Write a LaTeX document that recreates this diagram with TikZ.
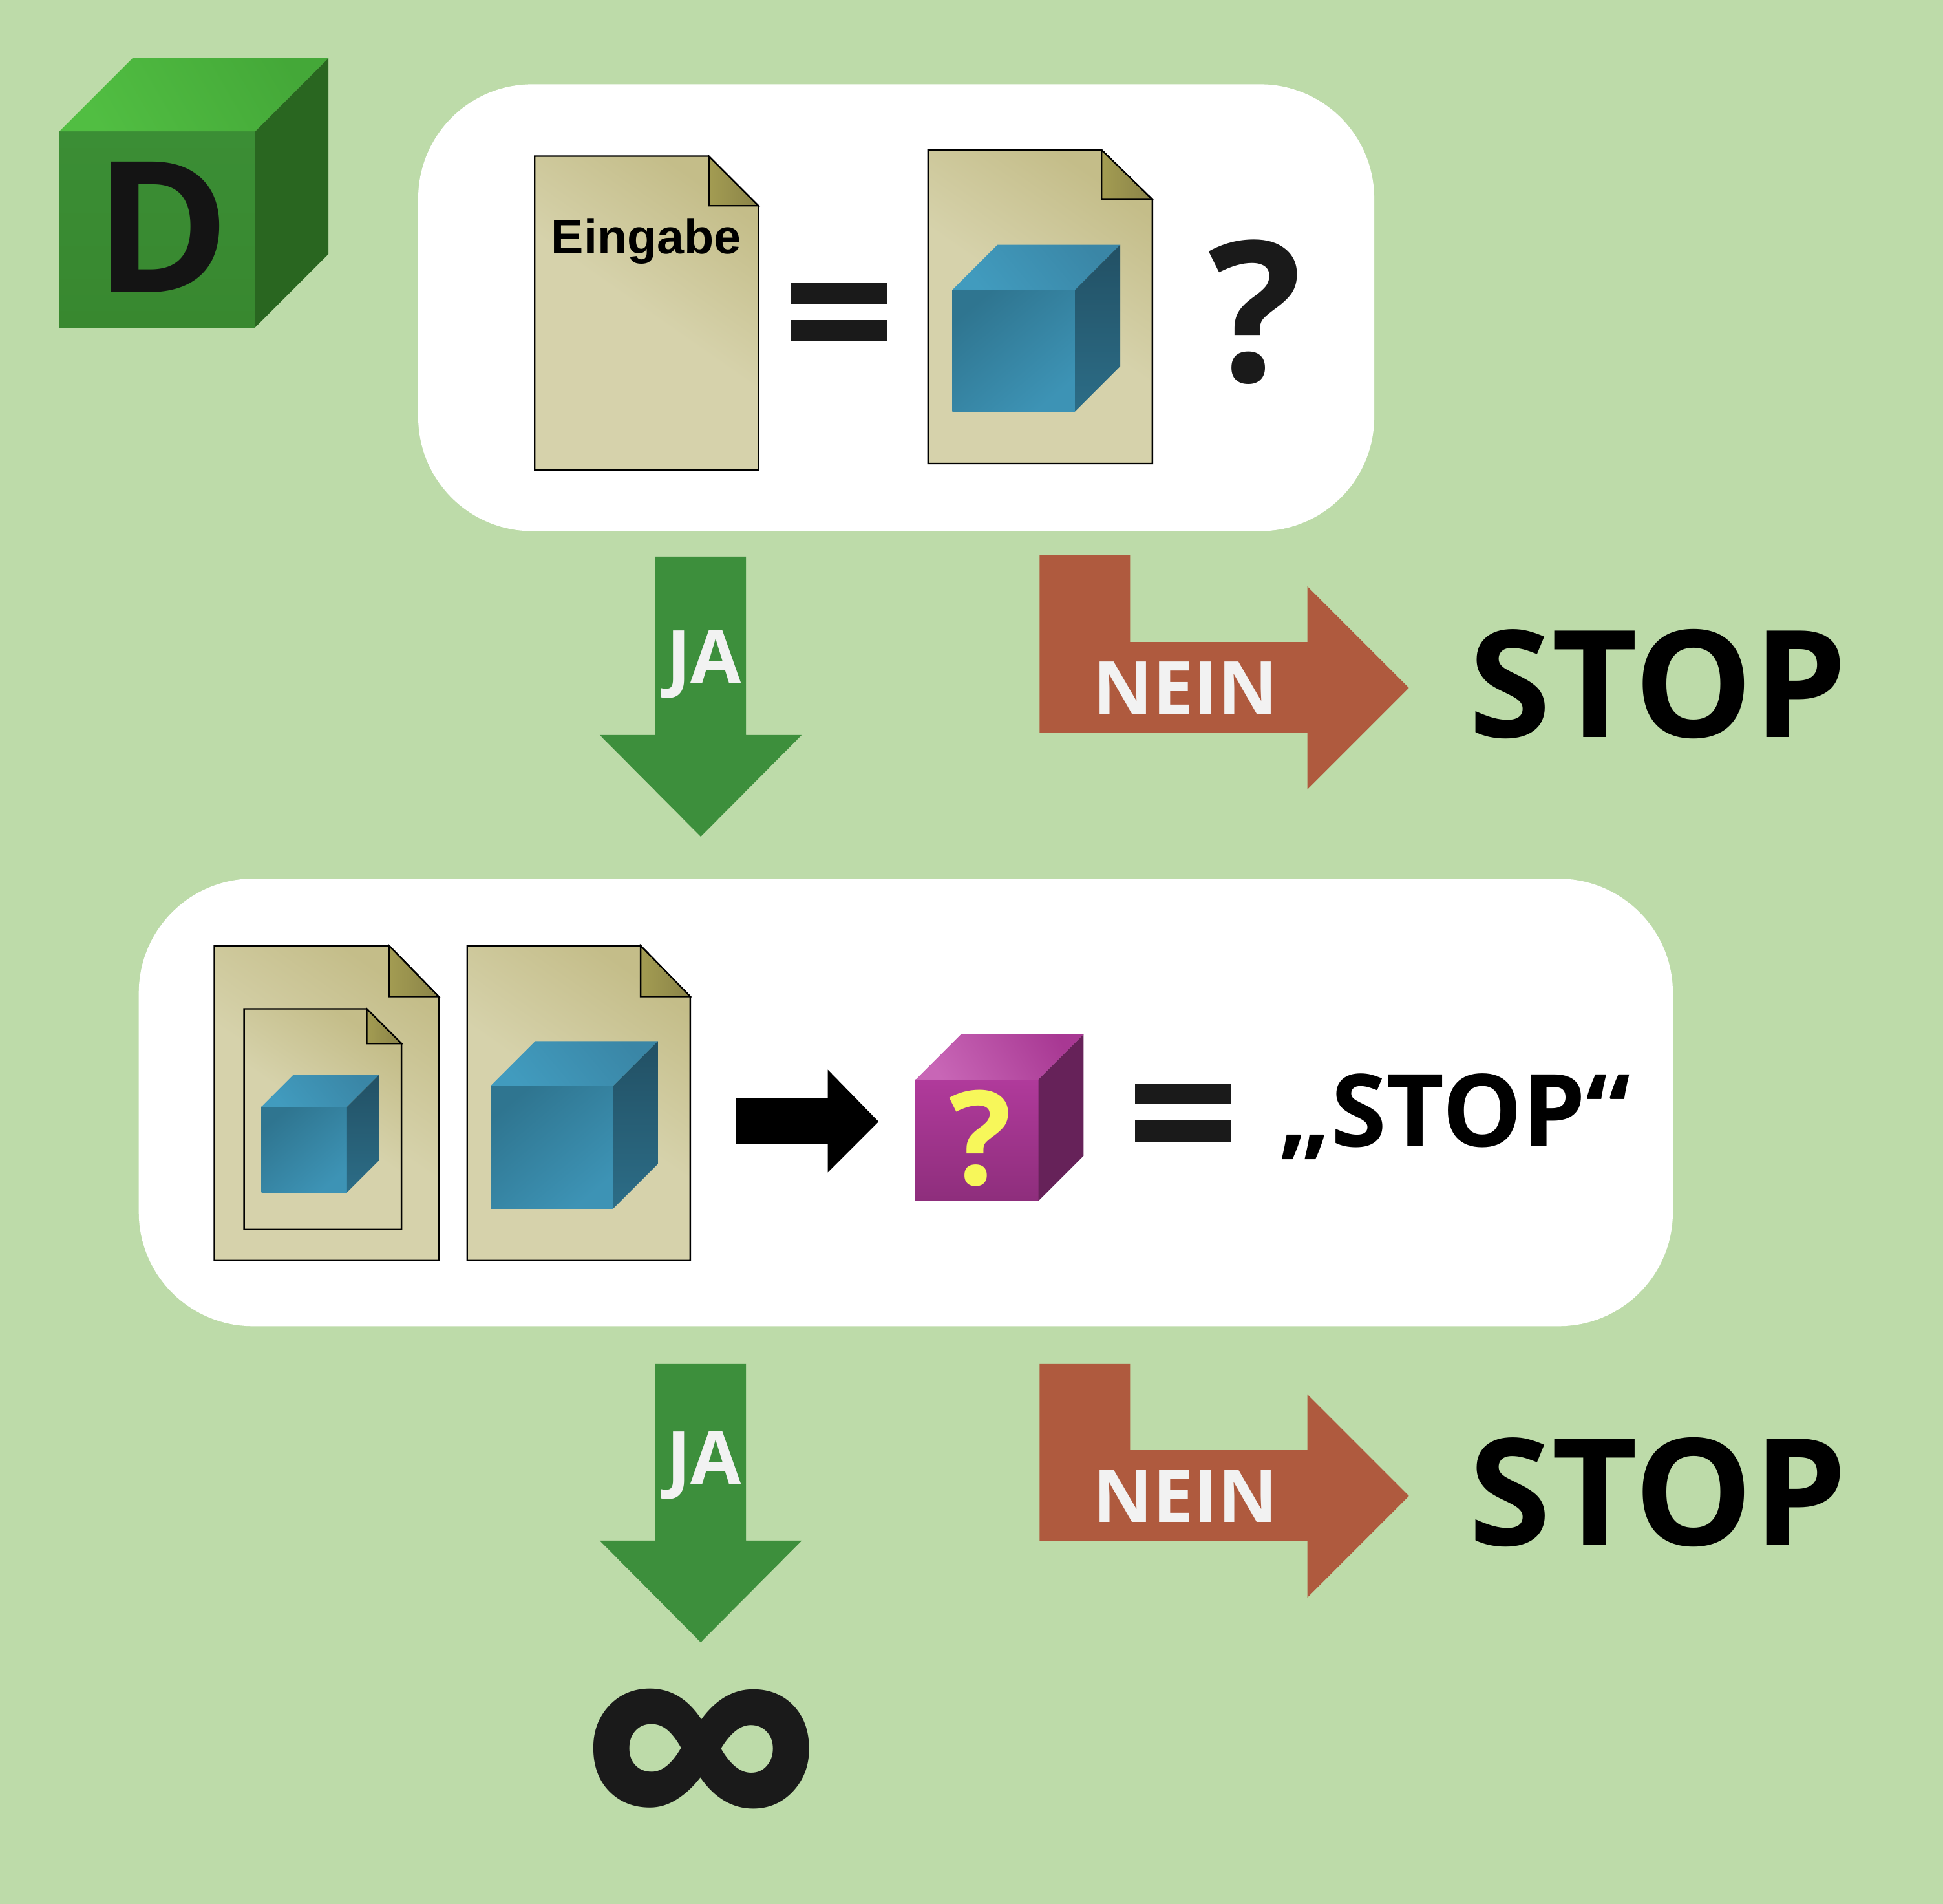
\documentclass[tikz,border=0pt]{standalone}
\usepackage{fontspec}
\setmainfont{Open Sans}
\newfontfamily\eingabefont{Liberation Sans}
\usepackage{tikz}
\usetikzlibrary{positioning}

\definecolor{bggreen}{HTML}{BDDBA9}
\definecolor{arrowgreen}{HTML}{3D8F3C}
\definecolor{arrowbrown}{HTML}{AF5A3E}
\definecolor{darkink}{HTML}{1A1A1A}

% paper sheet: x, y, width, height, fold width, fold height
\newcommand{\papersheet}[6]{
\shade[sheet] (#1,#2) -- ({#1+#3-#5},#2) -- ({#1+#3},{#2+#6}) -- ({#1+#3},{#2+#4}) -- (#1,{#2+#4}) -- cycle;
\shade[sheetfold] ({#1+#3-#5},#2) -- ({#1+#3},{#2+#6}) -- ({#1+#3-#5},{#2+#6}) -- cycle;
}
% cube: style prefix, x, y, width, height, depth
\newcommand{\blockcube}[6]{
\shade[#1front] (#2,#3) rectangle ({#2+#4},{#3+#5});
\shade[#1top] (#2,#3) -- ++(#6,-#6) -- ++(#4,0) -- ++(-#6,#6) -- cycle;
\shade[#1side] ({#2+#4},#3) -- ++(#6,-#6) -- ++(0,#5) -- ++(-#6,#6) -- cycle;
}

\begin{document}
\begin{tikzpicture}[x=0.01cm, y=-0.01cm,
    every node/.style={inner sep=0pt, outer sep=0pt, anchor=base},
    panel/.style={fill=white, rounded corners=0.92cm},
    sheet/.style={draw=black, line width=0.35pt, top color=sheettop, bottom color=sheetlow, middle color=sheetlow, shading angle=-35},
    sheetfold/.style={draw=black, line width=0.35pt, left color=foldleft, right color=foldright},
    bluefront/.style={top color=blueA, bottom color=blueB, shading angle=40},
    bluetop/.style={top color=blueC, bottom color=blueD, shading angle=-50},
    blueside/.style={top color=blueE, bottom color=blueF},
    greenfront/.style={top color=greenA, bottom color=greenB},
    greentop/.style={top color=greenC, bottom color=greenD, shading angle=-60},
    greenside/.style={top color=greenE, bottom color=greenE},
    purplefront/.style={top color=purpleA, bottom color=purpleB},
    purpletop/.style={top color=purpleC, bottom color=purpleD, shading angle=-60},
    purpleside/.style={top color=purpleE, bottom color=purpleE},
    jaarrow/.style={fill=arrowgreen},
    neinarrow/.style={fill=arrowbrown},
    stoptext/.style={font=\fontsize{34.2}{40}\selectfont\bfseries},
    arrowtext/.style={font=\fontsize{16.8}{20}\selectfont\bfseries, text=white!95!black},
    eqbar/.style={fill=darkink}
    ]
\definecolor{sheettop}{HTML}{C4BD89}
\definecolor{sheetlow}{HTML}{D6D2AB}
\definecolor{foldleft}{HTML}{A39C52}
\definecolor{foldright}{HTML}{8A8348}
\definecolor{blueA}{HTML}{2F7590}
\definecolor{blueB}{HTML}{3D93B5}
\definecolor{blueC}{HTML}{3A86A6}
\definecolor{blueD}{HTML}{419BBE}
\definecolor{blueE}{HTML}{225064}
\definecolor{blueF}{HTML}{2C6D87}
\definecolor{greenA}{HTML}{3B8E35}
\definecolor{greenB}{HTML}{38882F}
\definecolor{greenC}{HTML}{44A838}
\definecolor{greenD}{HTML}{51BE42}
\definecolor{greenE}{HTML}{296620}
\definecolor{purpleA}{HTML}{B03A9B}
\definecolor{purpleB}{HTML}{8E2E7C}
\definecolor{purpleC}{HTML}{A83893}
\definecolor{purpleD}{HTML}{C866B6}
\definecolor{purpleE}{HTML}{662259}
\definecolor{qyellow}{HTML}{F7F75A}
\useasboundingbox (0,0) rectangle (1568,1536);
\fill[bggreen] (0,0) rectangle (1568,1536);

% D cube
\blockcube{green}{48}{106}{158}{158}{59}
\node[font=\fontsize{42}{48}\selectfont\bfseries, text=black!92!white] (dletter) at (131,236) {D};

% first panel
\fill[panel] (337.5,68) rectangle (1109,428.5);
\papersheet{431.5}{126}{180.5}{253}{40}{40}
\node[font=\fontsize{11.2}{13}\selectfont\bfseries\eingabefont] (eingabe) at (521.5,204.5) {Eingabe};
\fill[eqbar] (638,228) rectangle (716,245);
\fill[eqbar] (638,258) rectangle (716,275);
\papersheet{749}{121}{181}{253}{41}{40}
\blockcube{blue}{768.5}{234}{99}{98}{36.5}
\node[font=\fontsize{45}{52}\selectfont\bfseries, text=darkink] (question) at (1013,308) {?};

% first arrows
\fill[jaarrow] (529,449) -- (602,449) -- (602,593) -- (647,593) -- (565.5,675) -- (484,593) -- (529,593) -- cycle;
\node[arrowtext] (ja1) at (568,551) {JA};
\fill[neinarrow] (839,448) -- (912,448) -- (912,518) -- (1055,518) -- (1055,473) -- (1137,555) -- (1055,637) -- (1055,591) -- (839,591) -- cycle;
\node[arrowtext] (nein1) at (956.5,576) {NEIN};
\node[stoptext] (stop1) at (1338,595) {STOP};

% second panel
\fill[panel] (112,709) rectangle (1350,1070);
\papersheet{173}{763}{181}{254}{40}{41}
\papersheet{197}{814}{127}{178}{28}{28}
\blockcube{blue}{211}{893}{69}{69}{26}
\papersheet{377}{763}{180}{254}{40}{41}
\blockcube{blue}{396}{876}{99}{99}{36}
\fill[black] (594,886) -- (668,886) -- (668,863) -- (709,905) -- (668,946) -- (668,923) -- (594,923) -- cycle;
\blockcube{purple}{739}{871}{99}{98}{36.5}
\node[font=\fontsize{30}{34}\selectfont\bfseries, text=qyellow] (qmark) at (791,956) {?};
\fill[eqbar] (916,874) rectangle (993,891);
\fill[eqbar] (916,904) rectangle (993,921);
\node[font=\fontsize{23.1}{28}\selectfont\bfseries] (stopquote) at (1174,925) {„STOP“};

% second arrows
\fill[jaarrow] (529,1100) -- (602,1100) -- (602,1243) -- (647,1243) -- (565.5,1325) -- (484,1243) -- (529,1243) -- cycle;
\node[arrowtext] (ja2) at (568,1197.5) {JA};
\fill[neinarrow] (839,1100) -- (912,1100) -- (912,1170) -- (1055,1170) -- (1055,1125) -- (1137,1207) -- (1055,1289) -- (1055,1243) -- (839,1243) -- cycle;
\node[arrowtext] (nein2) at (956.5,1228) {NEIN};
\node[stoptext] (stop2) at (1338,1247) {STOP};

\node[font=\fontsize{83}{90}\selectfont\bfseries, text=darkink, anchor=center] (infinity) at (566,1438) {∞};
\end{tikzpicture}
\end{document}
